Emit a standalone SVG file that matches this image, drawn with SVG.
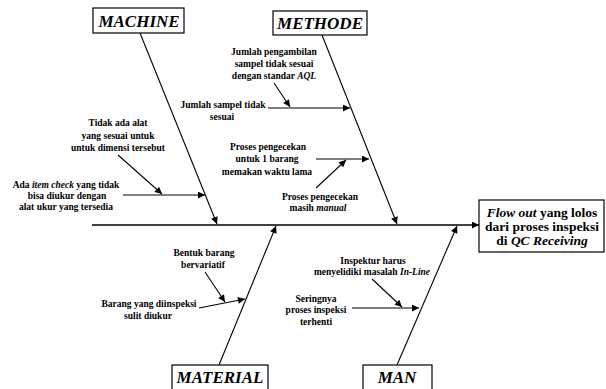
<svg xmlns="http://www.w3.org/2000/svg" width="606" height="389" viewBox="0 0 606 389">
<defs>
<marker id="ah" viewBox="0 0 10 10" refX="10" refY="5" markerWidth="8" markerHeight="7" markerUnits="userSpaceOnUse" orient="auto">
<path d="M0,0 L10,5 L0,10 z" fill="#000"/>
</marker>
</defs>
<style>
.ln{stroke:#000;stroke-width:1.1;fill:none;marker-end:url(#ah)}
.box{fill:#fff;stroke:#000;stroke-width:1.2}
.cat{font-family:"Liberation Serif","Times New Roman",serif;font-weight:bold;font-style:italic;font-size:17px;text-anchor:middle}
.lbl{font-family:"Liberation Serif","Times New Roman",serif;font-weight:bold;font-size:9.5px;text-anchor:middle}
.eff{font-family:"Liberation Serif","Times New Roman",serif;font-weight:bold;font-size:13.5px;text-anchor:middle}
.i{font-style:italic}
</style>
<rect width="606" height="389" fill="#fff"/>
<g id="connectors">
<line class="ln" x1="92" y1="225" x2="479" y2="225" style="stroke-width:1.4"/>
<line class="ln" x1="140" y1="33" x2="217" y2="224"/>
<line class="ln" x1="322" y1="35" x2="397" y2="224"/>
<line class="ln" x1="219" y1="365" x2="276" y2="226"/>
<line class="ln" x1="397" y1="365" x2="457" y2="226"/>
<line class="ln" x1="123" y1="195" x2="205" y2="195"/>
<line class="ln" x1="118" y1="155" x2="162" y2="194"/>
<line class="ln" x1="268" y1="108" x2="350" y2="108"/>
<line class="ln" x1="274" y1="83" x2="290" y2="107"/>
<line class="ln" x1="316" y1="159" x2="369" y2="159"/>
<line class="ln" x1="316" y1="188" x2="346" y2="160"/>
<line class="ln" x1="199" y1="308" x2="245" y2="299"/>
<line class="ln" x1="205" y1="272" x2="225" y2="302"/>
<line class="ln" x1="352" y1="308" x2="419" y2="308"/>
<line class="ln" x1="372" y1="279" x2="402" y2="307"/>
</g>
<g id="machine">
<rect class="box" x="93" y="8" width="91" height="25"/>
<text class="cat" x="139" y="27">MACHINE</text>
</g>
<g id="methode">
<rect class="box" x="273" y="11" width="94" height="24"/>
<text class="cat" x="320" y="29">METHODE</text>
</g>
<g id="material">
<rect class="box" x="172" y="365" width="96" height="30"/>
<text class="cat" x="220" y="383">MATERIAL</text>
</g>
<g id="man">
<rect class="box" x="363" y="365" width="69" height="30"/>
<text class="cat" x="397" y="383">MAN</text>
</g>
<g id="effect">
<rect class="box" x="479" y="200" width="125" height="52"/>
<text class="eff" x="542" y="217"><tspan class="i">Flow out</tspan> yang lolos</text>
<text class="eff" x="542" y="231">dari proses inspeksi</text>
<text class="eff" x="542" y="245">di <tspan class="i">QC Receiving</tspan></text>
</g>
<g id="c-machine-1">
<text class="lbl" x="118" y="126">Tidak ada alat</text>
<text class="lbl" x="118" y="139">yang sesuai untuk</text>
<text class="lbl" x="118" y="151">untuk dimensi tersebut</text>
</g>
<g id="c-machine-2">
<text class="lbl" x="66" y="188">Ada <tspan class="i">item check</tspan> yang tidak</text>
<text class="lbl" x="67" y="199">bisa diukur dengan</text>
<text class="lbl" x="66" y="210">alat ukur yang tersedia</text>
</g>
<g id="c-methode-1">
<text class="lbl" x="274" y="55">Jumlah pengambilan</text>
<text class="lbl" x="274" y="67">sampel tidak sesuai</text>
<text class="lbl" x="274" y="79">dengan standar <tspan class="i">AQL</tspan></text>
</g>
<g id="c-methode-2">
<text class="lbl" x="223" y="108">Jumlah sampel tidak</text>
<text class="lbl" x="222" y="120">sesuai</text>
</g>
<g id="c-methode-3">
<text class="lbl" x="268" y="150">Proses pengecekan</text>
<text class="lbl" x="267" y="162">untuk 1 barang</text>
<text class="lbl" x="267" y="175">memakan waktu lama</text>
</g>
<g id="c-methode-4">
<text class="lbl" x="320" y="200">Proses pengecekan</text>
<text class="lbl" x="318" y="211">masih <tspan class="i">manual</tspan></text>
</g>
<g id="c-material-1">
<text class="lbl" x="204" y="256">Bentuk barang</text>
<text class="lbl" x="203" y="268">bervariatif</text>
</g>
<g id="c-material-2">
<text class="lbl" x="149" y="307">Barang yang diinspeksi</text>
<text class="lbl" x="148" y="319">sulit diukur</text>
</g>
<g id="c-man-1">
<text class="lbl" x="373" y="264">Inspektur harus</text>
<text class="lbl" x="372" y="275">menyelidiki masalah <tspan class="i">In-Line</tspan></text>
</g>
<g id="c-man-2">
<text class="lbl" x="316" y="302">Seringnya</text>
<text class="lbl" x="316" y="313">proses inspeksi</text>
<text class="lbl" x="316" y="325">terhenti</text>
</g>
</svg>
